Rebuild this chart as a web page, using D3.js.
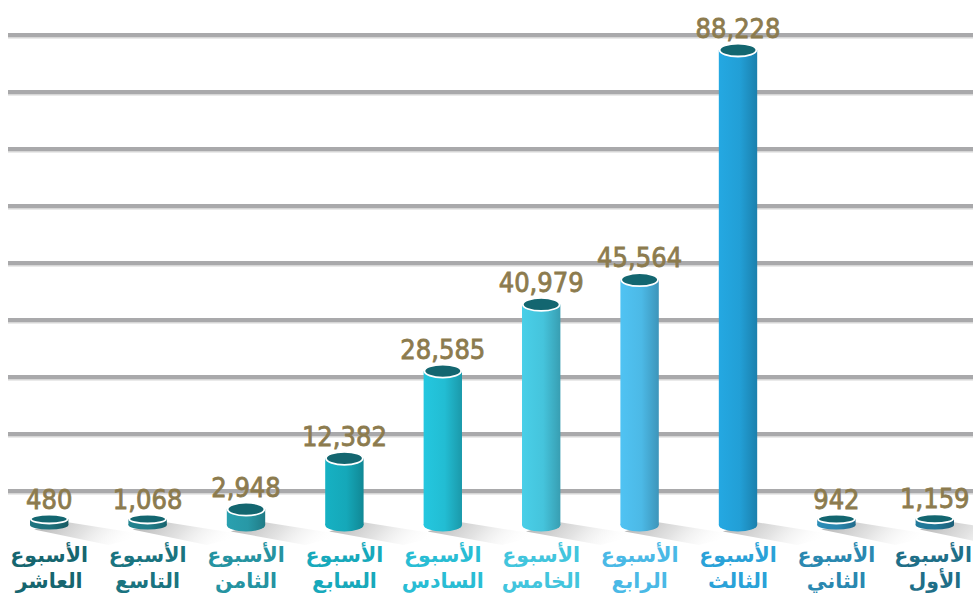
<!DOCTYPE html>
<html><head><meta charset="utf-8">
<script src="https://cdn.jsdelivr.net/npm/d3@7"></script>
<style>html,body{margin:0;padding:0;background:#fff;}svg{display:block;}</style>
</head><body>
<svg id="c" width="973" height="599"></svg>
<script>
const categories = ["الأسبوع العاشر","الأسبوع التاسع","الأسبوع الثامن","الأسبوع السابع","الأسبوع السادس","الأسبوع الخامس","الأسبوع الرابع","الأسبوع الثالث","الأسبوع الثاني","الأسبوع الأول"];
const values = [480, 1068, 2948, 12382, 28585, 40979, 45564, 88228, 942, 1159];
const palette = ["#1d6f7a","#1f7c88","#2898a6","#15a8b9","#22bdd3","#45c4dc","#4cb9e6","#229fd6","#2a86ad","#217594"];
const labelColors = ["#16666f","#1a7480","#2593a1","#17a9bb","#29bdd4","#42c5dd","#4ab9e6","#2aa2d8","#2a88b0","#1f6f88"];
const gridCount = 9;

const svg = d3.select("#c");
const W = 973;
const x = d3.scaleBand().domain(categories).range([0, 984]).paddingInner(0.61).paddingOuter(0.305);
const base = 525;
const y = d3.scaleLinear().domain([0, 88228]).range([base, 50]);
const gy = d3.scaleLinear().domain([0, gridCount - 1]).range([492, 36]);

const defs = svg.append("defs");
palette.forEach((c, i) => {
  const g = defs.append("linearGradient").attr("id", "g" + i).attr("x1", "0").attr("x2", "1").attr("y1", "0").attr("y2", "0");
  const col = d3.color(c);
  g.append("stop").attr("offset", "0").attr("stop-color", col.brighter(0.15));
  g.append("stop").attr("offset", "0.55").attr("stop-color", col);
  g.append("stop").attr("offset", "1").attr("stop-color", col.darker(0.6));
});
const sg = defs.append("linearGradient").attr("id", "sh").attr("x1", "0").attr("x2", "1").attr("y1", "0").attr("y2", "0.2");
sg.append("stop").attr("offset", "0").attr("stop-color", "#a8a8a8").attr("stop-opacity", 0.95);
sg.append("stop").attr("offset", "0.5").attr("stop-color", "#d0d0d0").attr("stop-opacity", 0.6);
sg.append("stop").attr("offset", "1").attr("stop-color", "#ffffff").attr("stop-opacity", 0);

// gridlines
const grid = svg.append("g");
d3.range(gridCount).forEach(k => {
  grid.append("rect").attr("x", 8).attr("y", gy(k) - 3).attr("width", W - 8).attr("height", 4).attr("fill", "#a9a9ab");
  grid.append("rect").attr("x", 8).attr("y", gy(k) + 1).attr("width", W - 8).attr("height", 1.5).attr("fill", "#d6d6d6");
});

const bw = x.bandwidth();
const rx = bw / 2;
const bars = svg.append("g").selectAll("g").data(values).join("g");
bars.each(function(v, i) {
  const g = d3.select(this);
  const cx = x(categories[i]) + bw / 2;
  const small = v < 2000;
  const ry = small ? 4.5 : 6.5;
  let top = y(v);
  if (base - top < 6) top = base - 6;
  g.append("path")
    .attr("d", `M${cx - rx + 4},${base + ry} L${cx + rx - 2},${base - 3} L${cx + rx + 80},${base + 10} L${cx + rx + 40},${base + 20} Z`)
    .attr("fill", "url(#sh)");
  g.append("ellipse").attr("cx", cx).attr("cy", base).attr("rx", rx).attr("ry", ry).attr("fill", `url(#g${i})`);
  g.append("rect").attr("x", cx - rx).attr("y", top).attr("width", bw).attr("height", base - top).attr("fill", `url(#g${i})`);
  g.append("ellipse").attr("cx", cx).attr("cy", top).attr("rx", rx - 0.8).attr("ry", ry)
    .attr("fill", "#136670").attr("stroke", "#ffffff").attr("stroke-width", 1.8);
  g.append("text").attr("x", cx).attr("y", top - ry - 6).attr("text-anchor", "middle")
    .attr("font-family", "'DejaVu Sans Condensed','DejaVu Sans',sans-serif").attr("font-size", 27)
    .attr("fill", "#8c7b4e").attr("stroke", "#8c7b4e").attr("stroke-width", 0.8)
    .text(d3.format(",")(v));
});

const labels = svg.append("g").selectAll("text").data(categories).join("text")
  .attr("text-anchor", "middle").attr("direction", "rtl")
  .attr("font-family", "'DejaVu Sans',sans-serif").attr("font-weight", "bold").attr("font-size", 20.5)
  .attr("fill", (d, i) => labelColors[i]);
labels.each(function(d) {
  const parts = d.split(" ");
  const t = d3.select(this);
  const cx = x(d) + bw / 2;
  const s1 = t.append("tspan").attr("x", cx).attr("y", 562).text(parts[0]);
  const s2 = t.append("tspan").attr("x", cx).attr("y", 588).text(parts.slice(1).join(" "));
  [s1, s2].forEach(s => {
    const half = s.node().getComputedTextLength() / 2;
    const nx = Math.min(cx, W - 1 - half);
    s.attr("x", nx);
  });
});
</script>
</body></html>
